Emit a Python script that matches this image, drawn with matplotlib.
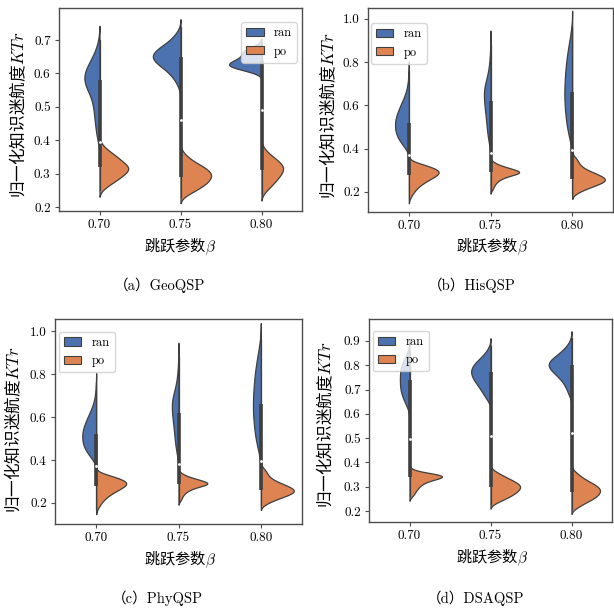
import numpy as np
import matplotlib
matplotlib.use("Agg")
import matplotlib.pyplot as plt
from matplotlib.patches import Patch

plt.rcParams['font.family'] = ['cmr10', 'Noto Sans CJK SC']
plt.rcParams['mathtext.fontset'] = 'cm'
plt.rcParams['axes.formatter.use_mathtext'] = True
plt.rcParams['axes.unicode_minus'] = False

betas = ['0.70', '0.75', '0.80']
hues = ['ran', 'po']
colors = ['#4C72B0', '#DD8452']
gray = '#3f3f3f'

# normalised KTr values and how many runs gave each one, per beta (0.70, 0.75, 0.80)
# (a) GeoQSP
geo_ran_vals = [
    [0.40, 0.42, 0.44, 0.46, 0.48, 0.50, 0.52, 0.54, 0.56, 0.58, 0.60, 0.62, 0.64, 0.66, 0.68, 0.70],
    [0.55, 0.56, 0.57, 0.58, 0.59, 0.60, 0.61, 0.62, 0.63, 0.64, 0.65, 0.66, 0.67, 0.68, 0.69, 0.70,
     0.71, 0.72, 0.73, 0.74],
    [0.60, 0.61, 0.62, 0.63, 0.64, 0.65, 0.66, 0.67, 0.68, 0.69],
]
geo_ran_counts = [
    [6, 9, 11, 13, 15, 16, 20, 26, 38, 44, 43, 34, 24, 14, 7, 3],
    [2, 3, 5, 8, 11, 15, 20, 26, 32, 37, 39, 38, 33, 27, 20, 14, 10, 6, 3, 1],
    [8, 25, 44, 46, 36, 27, 27, 24, 12, 3],
]
geo_po_vals = [
    [0.25, 0.26, 0.27, 0.28, 0.29, 0.30, 0.31, 0.32, 0.33, 0.34, 0.35, 0.36, 0.37, 0.38, 0.39],
    [0.23, 0.24, 0.25, 0.26, 0.27, 0.28, 0.29, 0.30, 0.31, 0.32, 0.33, 0.34, 0.35, 0.36, 0.37],
    [0.24, 0.25, 0.26, 0.27, 0.28, 0.29, 0.30, 0.31, 0.32, 0.33, 0.34, 0.35, 0.36, 0.37, 0.38],
]
geo_po_counts = [
    [4, 9, 16, 23, 29, 35, 40, 40, 35, 29, 24, 18, 12, 6, 3],
    [5, 12, 21, 28, 35, 39, 42, 42, 38, 32, 23, 16, 10, 5, 2],
    [3, 7, 12, 16, 20, 24, 27, 30, 30, 27, 22, 16, 10, 6, 2],
]

# (b) HisQSP
his_ran_vals = [
    [0.40, 0.42, 0.44, 0.46, 0.48, 0.50, 0.52, 0.54, 0.56, 0.58, 0.60, 0.62, 0.64, 0.66, 0.68, 0.70,
     0.72, 0.74, 0.76],
    [0.42, 0.44, 0.46, 0.48, 0.50, 0.52, 0.54, 0.56, 0.58, 0.60, 0.62, 0.64, 0.66, 0.68, 0.70, 0.72,
     0.74, 0.76, 0.78, 0.80, 0.82, 0.84, 0.86, 0.88],
    [0.42, 0.44, 0.46, 0.48, 0.50, 0.52, 0.54, 0.56, 0.58, 0.60, 0.62, 0.64, 0.66, 0.68, 0.70, 0.72,
     0.74, 0.76, 0.78, 0.80, 0.82, 0.84, 0.86, 0.88, 0.90, 0.92, 0.94, 0.96],
]
his_ran_counts = [
    [8, 18, 26, 33, 36, 37, 37, 36, 32, 27, 23, 17, 12, 8, 5, 3, 2, 1, 1],
    [4, 6, 8, 9, 10, 11, 12, 13, 15, 16, 17, 18, 19, 18, 15, 11, 8, 5, 4, 3, 2, 1, 1, 1],
    [3, 7, 9, 12, 14, 16, 17, 18, 19, 20, 21, 21, 21, 21, 20, 20, 19, 18, 17, 16, 15, 13, 11, 9,
     8, 5, 3, 2],
]
his_po_vals = [
    [0.17, 0.18, 0.19, 0.20, 0.21, 0.22, 0.23, 0.24, 0.25, 0.26, 0.27, 0.28, 0.29, 0.30, 0.31, 0.32,
     0.33, 0.34],
    [0.21, 0.22, 0.23, 0.24, 0.25, 0.26, 0.27, 0.28, 0.29, 0.30, 0.31, 0.32, 0.33, 0.34],
    [0.19, 0.20, 0.21, 0.22, 0.23, 0.24, 0.25, 0.26, 0.27, 0.28, 0.29, 0.30, 0.31, 0.32, 0.33, 0.34,
     0.35, 0.36, 0.37],
]
his_po_counts = [
    [2, 3, 5, 7, 9, 12, 15, 19, 24, 29, 34, 39, 42, 40, 34, 26, 16, 6],
    [3, 4, 5, 7, 10, 14, 21, 32, 44, 36, 25, 15, 8, 3],
    [5, 9, 16, 23, 31, 39, 45, 46, 41, 35, 28, 21, 15, 12, 9, 8, 7, 4, 1],
]

# (c) PhyQSP gave the same runs as HisQSP
phy_ran_vals = his_ran_vals
phy_ran_counts = his_ran_counts
phy_po_vals = his_po_vals
phy_po_counts = his_po_counts

# (d) DSAQSP
dsa_ran_vals = [
    [0.62, 0.64, 0.66, 0.68, 0.70, 0.72, 0.74, 0.76, 0.78, 0.80, 0.82, 0.84, 0.86],
    [0.65, 0.66, 0.67, 0.68, 0.69, 0.70, 0.71, 0.72, 0.73, 0.74, 0.75, 0.76, 0.77, 0.78, 0.79, 0.80,
     0.81, 0.82, 0.83, 0.84, 0.85, 0.86, 0.87, 0.88],
    [0.67, 0.68, 0.69, 0.70, 0.71, 0.72, 0.73, 0.74, 0.75, 0.76, 0.77, 0.78, 0.79, 0.80, 0.81, 0.82,
     0.83, 0.84, 0.85, 0.86, 0.87, 0.88, 0.89, 0.90, 0.91],
]
dsa_ran_counts = [
    [4, 10, 16, 21, 24, 25, 25, 25, 24, 22, 16, 8, 3],
    [3, 5, 7, 9, 11, 13, 15, 17, 20, 22, 24, 25, 26, 26, 25, 23, 20, 17, 13, 10, 7, 5, 3, 1],
    [3, 4, 5, 6, 8, 9, 11, 14, 17, 20, 23, 28, 30, 31, 31, 29, 24, 20, 16, 12, 9, 6, 4, 2, 1],
]
dsa_po_vals = [
    [0.26, 0.27, 0.28, 0.29, 0.30, 0.31, 0.32, 0.33, 0.34, 0.35, 0.36, 0.37],
    [0.23, 0.24, 0.25, 0.26, 0.27, 0.28, 0.29, 0.30, 0.31, 0.32, 0.33, 0.34, 0.35, 0.36, 0.37],
    [0.21, 0.22, 0.23, 0.24, 0.25, 0.26, 0.27, 0.28, 0.29, 0.30, 0.31, 0.32, 0.33, 0.34, 0.35, 0.36,
     0.37],
]
dsa_po_counts = [
    [4, 6, 8, 10, 13, 16, 22, 32, 49, 43, 16, 4],
    [5, 12, 19, 25, 31, 35, 38, 40, 38, 33, 26, 20, 14, 8, 3],
    [5, 11, 15, 22, 28, 33, 36, 38, 38, 35, 30, 24, 18, 13, 10, 5, 2],
]

captions = ['（a）GeoQSP', '（b）HisQSP', '（c）PhyQSP', '（d）DSAQSP']


def kde(vals, counts, cut=2):
    v = np.asarray(vals, float)
    w = np.asarray(counts, float)
    n = w.sum()
    mean = (v * w).sum() / n
    std = np.sqrt((w * (v - mean) ** 2).sum() / (n - 1))
    bw = std * n ** (-1 / 5)  # scott
    y = np.linspace(v.min() - cut * bw, v.max() + cut * bw, 300)
    d = (w[:, None] * np.exp(-0.5 * ((y[None, :] - v[:, None]) / bw) ** 2)).sum(0)
    return y, d / (bw * np.sqrt(2 * np.pi))


def split_violins(ax, ran_vals, ran_counts, po_vals, po_counts, ylim, yticks, legend_loc, legend_xy):
    curves = []
    for i in range(len(betas)):
        curves.append((i, 0) + kde(ran_vals[i], ran_counts[i]))
        curves.append((i, 1) + kde(po_vals[i], po_counts[i]))
    dmax = max(c[3].max() for c in curves)
    for i, h, y, d in curves:
        w = d / dmax * 0.4
        if h == 0:
            ax.fill_betweenx(y, i - w, i, facecolor=colors[0], edgecolor=gray, lw=0.9, zorder=1)
        else:
            ax.fill_betweenx(y, i, i + w, facecolor=colors[1], edgecolor=gray, lw=0.9, zorder=1)

    # box of both halves together
    for i in range(len(betas)):
        data = np.concatenate([np.repeat(ran_vals[i], ran_counts[i]),
                               np.repeat(po_vals[i], po_counts[i])])
        q25, q50, q75 = np.percentile(data, [25, 50, 75])
        iqr = q75 - q25
        lo = data[data >= q25 - 1.5 * iqr].min()
        hi = data[data <= q75 + 1.5 * iqr].max()
        ax.plot([i, i], [lo, hi], color=gray, lw=0.9, zorder=2)
        ax.plot([i, i], [q25, q75], color=gray, lw=2.6, solid_capstyle='butt', zorder=2)
        ax.scatter([i], [q50], s=4, color='white', zorder=3, linewidths=0)

    ax.set_xlim(-0.5, 2.5)
    ax.set_ylim(*ylim)
    ax.set_xticks(range(len(betas)))
    ax.set_xticklabels(betas)
    ax.set_yticks(yticks)
    ax.set_yticklabels(['%.1f' % t for t in yticks])
    for s in ax.spines.values():
        s.set_color('#4d4d4d')
        s.set_linewidth(1.0)
    ax.tick_params(length=3, width=0.8, color='#4d4d4d', pad=3, labelsize=9.5)

    handles = [Patch(facecolor=c, edgecolor=gray, lw=0.8, label=l) for c, l in zip(colors, hues)]
    ax.legend(handles=handles, loc=legend_loc, bbox_to_anchor=legend_xy, borderaxespad=0,
              fontsize=9, handlelength=1.4, handleheight=0.65, framealpha=0.8,
              edgecolor='#cccccc')


W, H = 614, 610
fig = plt.figure(figsize=(W / 100, H / 100), dpi=100)


def px_axes(l, t, r, b):
    return fig.add_axes([l / W, 1 - b / H, (r - l) / W, (b - t) / H])


ax_a = px_axes(59, 8, 302, 211)
ax_b = px_axes(368, 8, 613, 212)
ax_c = px_axes(55, 319, 302, 524)
ax_d = px_axes(369, 319, 612, 522)

split_violins(ax_a, geo_ran_vals, geo_ran_counts, geo_po_vals, geo_po_counts,
              (0.188, 0.796), [0.2, 0.3, 0.4, 0.5, 0.6, 0.7], 'upper right', (0.979, 0.931))
split_violins(ax_b, his_ran_vals, his_ran_counts, his_po_vals, his_po_counts,
              (0.107, 1.05), [0.2, 0.4, 0.6, 0.8, 1.0], 'upper left', (0.012, 0.926))
split_violins(ax_c, phy_ran_vals, phy_ran_counts, phy_po_vals, phy_po_counts,
              (0.102, 1.056), [0.2, 0.4, 0.6, 0.8, 1.0], 'upper left', (0.016, 0.937))
split_violins(ax_d, dsa_ran_vals, dsa_ran_counts, dsa_po_vals, dsa_po_counts,
              (0.155, 0.99), [0.2, 0.3, 0.4, 0.5, 0.6, 0.7, 0.8, 0.9], 'upper left', (0.016, 0.941))

# the plain part of a mathtext string is drawn with the text's own font, so give it a CJK one
ylab = '归一化知识迷航度$KTr$'
xlab = '跳跃参数$\\beta$'
cjk = 'Noto Sans CJK SC'
# label / caption centres in pixels
ylab_xy = [(18, 115), (328, 116), (13, 430), (325, 425)]
xlab_xy = [(180, 247), (492, 247), (180, 560), (492, 558)]
cap_xy = [(160, 285), (472, 285), (157, 598), (476, 598)]
for k in range(4):
    x, y = ylab_xy[k]
    fig.text(x / W, 1 - y / H, ylab, rotation=90, ha='center', va='center', fontsize=12,
             family=cjk)
    x, y = xlab_xy[k]
    fig.text(x / W, 1 - y / H, xlab, ha='center', va='center', fontsize=11, family=cjk)
    x, y = cap_xy[k]
    fig.text(x / W, 1 - y / H, captions[k], ha='center', va='center', fontsize=10.5)

fig.savefig('out.png', dpi=100)
